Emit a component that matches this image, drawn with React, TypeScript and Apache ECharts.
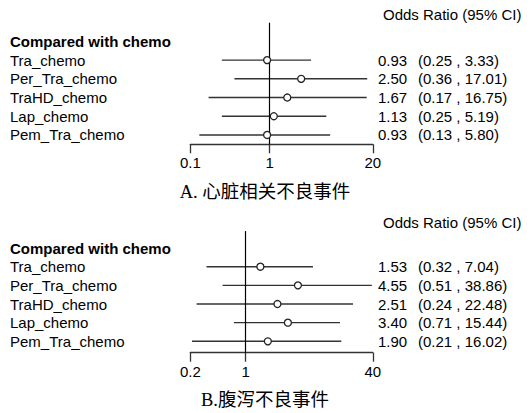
import React, { useEffect, useRef } from "react";
import * as echarts from "echarts";

const categories = ["Tra_chemo", "Per_Tra_chemo", "TraHD_chemo", "Lap_chemo", "Pem_Tra_chemo"];
const groupHeader = "Compared with chemo";
const colHeader = "Odds Ratio (95% CI)";

const orA = [0.93, 2.5, 1.67, 1.13, 0.93];
const loA = [0.25, 0.36, 0.17, 0.25, 0.13];
const hiA = [3.33, 17.01, 16.75, 5.19, 5.8];
const ticksA = [0.1, 1, 20];
const titleA = "A. 心脏相关不良事件";

const orB = [1.53, 4.55, 2.51, 3.4, 1.9];
const loB = [0.32, 0.51, 0.24, 0.71, 0.21];
const hiB = [7.04, 38.86, 22.48, 15.44, 16.02];
const ticksB = [0.2, 1, 40];
const titleB = "B.腹泻不良事件";

const SANS = "'Liberation Sans', Arial, sans-serif";
const SERIF = "'Liberation Serif', 'Noto Sans CJK SC', serif";

export default function App() {
  const ref = useRef<HTMLDivElement>(null);
  useEffect(() => {
    if (!ref.current) return;
    const chart = echarts.init(ref.current, null, { renderer: "svg" });
    const f2 = (v: number) => v.toFixed(2);

    const panels = [
      { or: orA, lo: loA, hi: hiA, ticks: ticksA, top: 22.7, bottom: 144.3, yMax: 6.5, lineTop: 0 },
      { or: orB, lo: loB, hi: hiB, ticks: ticksB, top: 229.4, bottom: 352.7, yMax: 6.61, lineTop: 0.09 },
    ];
    const left = 190.3;
    const rightEdge = 372.8;

    const grid: any[] = [];
    const xAxis: any[] = [];
    const yAxis: any[] = [];
    const series: any[] = [];

    panels.forEach((p, gi) => {
      grid.push({ left, width: rightEdge - left, top: p.top, height: p.bottom - p.top });
      xAxis.push({
        type: "log",
        logBase: 10,
        gridIndex: gi,
        position: "bottom",
        min: p.ticks[0],
        max: p.ticks[p.ticks.length - 1],
        axisLine: { show: true, onZero: false, lineStyle: { color: "#333", width: 1.3 } },
        axisTick: { show: true, length: 9, customValues: p.ticks, lineStyle: { color: "#333", width: 1.3 } },
        axisLabel: {
          customValues: p.ticks,
          formatter: (v: number) => String(v),
          color: "#000",
          fontSize: 15,
          fontFamily: SANS,
          margin: 11,
        },
        splitLine: { show: false },
      });
      const rowLabel = (v: number) => {
        if (v === 1) return "{b|" + groupHeader + "}";
        const i = v - 2;
        return Number.isInteger(v) && i >= 0 && i < categories.length ? categories[i] : "";
      };
      yAxis.push({
        type: "value",
        gridIndex: gi,
        inverse: true,
        min: 0,
        max: p.yMax,
        interval: 1,
        position: "left",
        axisLine: { show: false },
        axisTick: { show: false },
        splitLine: { show: false },
        axisLabel: {
          formatter: rowLabel,
          align: "left",
          margin: left - 10,
          color: "#000",
          fontSize: 15,
          fontFamily: SANS,
          showMinLabel: true,
          showMaxLabel: true,
          rich: { b: { fontWeight: "bold", fontSize: 15, fontFamily: SANS, color: "#000" } },
        },
      });
      yAxis.push({
        type: "value",
        gridIndex: gi,
        inverse: true,
        min: 0,
        max: p.yMax,
        interval: 1,
        position: "right",
        axisLine: { show: false },
        axisTick: { show: false },
        splitLine: { show: false },
        axisLabel: {
          formatter: (v: number) => {
            const i = v - 2;
            if (!Number.isInteger(v) || i < 0 || i >= categories.length) return "";
            return "{a|" + f2(p.or[i]) + "}{c|(" + f2(p.lo[i]) + " , " + f2(p.hi[i]) + ")}";
          },
          align: "left",
          margin: 378 - rightEdge,
          color: "#000",
          fontSize: 15,
          fontFamily: SANS,
          rich: {
            a: { width: 40, fontSize: 15, fontFamily: SANS, color: "#000" },
            c: { fontSize: 15, fontFamily: SANS, color: "#000" },
          },
        },
      });
      series.push({
        type: "custom",
        xAxisIndex: gi,
        yAxisIndex: gi * 2,
        data: p.lo.map((l, i) => [l, p.hi[i], i + 2]),
        encode: { x: [0, 1], y: 2 },
        renderItem: (params: any, api: any) => {
          const a = api.coord([api.value(0), api.value(2)]);
          const b = api.coord([api.value(1), api.value(2)]);
          return {
            type: "line",
            shape: { x1: a[0], y1: a[1], x2: b[0], y2: b[1] },
            style: { stroke: "#333", lineWidth: 1.4 },
          };
        },
        z: 2,
        silent: true,
        markLine: {
          silent: true,
          symbol: "none",
          label: { show: false },
          lineStyle: { color: "#000", width: 1.2, type: "solid" },
          data: [[{ coord: [1, p.lineTop] }, { coord: [1, p.yMax] }]],
        },
      });
      series.push({
        type: "scatter",
        xAxisIndex: gi,
        yAxisIndex: gi * 2,
        data: p.or.map((o, i) => [o, i + 2]),
        symbol: "circle",
        symbolSize: 7,
        itemStyle: { color: "#fff", borderColor: "#222", borderWidth: 1.3, opacity: 1 },
        z: 5,
        silent: true,
      });
    });

    chart.setOption({
      animation: false,
      backgroundColor: "#fff",
      grid,
      xAxis,
      yAxis,
      series,
      graphic: [
        { type: "text", left: 383, top: 7, style: { text: colHeader, fontSize: 15, fontFamily: SANS, fill: "#000" } },
        { type: "text", left: 383, top: 215, style: { text: colHeader, fontSize: 15, fontFamily: SANS, fill: "#000" } },
        { type: "text", x: 265, y: 192, style: { text: titleA, fontSize: 18.5, fontFamily: SERIF, fill: "#000", align: "center", verticalAlign: "middle" } },
        { type: "text", x: 265, y: 400, style: { text: titleB, fontSize: 18.5, fontFamily: SERIF, fill: "#000", align: "center", verticalAlign: "middle" } },
      ],
    });
    return () => chart.dispose();
  }, []);
  return <div ref={ref} style={{ position: "absolute", left: 0, top: 0, width: 531, height: 413 }} />;
}
